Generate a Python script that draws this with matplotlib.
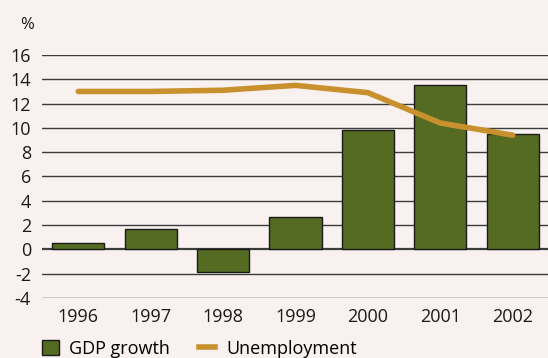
import matplotlib
matplotlib.use("Agg")
import matplotlib.pyplot as plt
import matplotlib.patches as mpatches
from matplotlib.lines import Line2D
import numpy as np

# Data
years = ["1996", "1997", "1998", "1999", "2000", "2001", "2002"]
gdp_growth = [0.5, 1.7, -1.9, 2.7, 9.8, 13.5, 9.5]
unemployment = [13.0, 13.0, 13.1, 13.5, 12.9, 10.4, 9.4]
y_ticks = [-4, -2, 0, 2, 4, 6, 8, 10, 12, 14, 16]

BG = "#F8F1EF"
BAR = "#556B22"
LINE = "#C8912E"
GRID = "#3C3C3C"

plt.rcParams["font.family"] = ["Open Sans", "DejaVu Sans"]

fig = plt.figure(figsize=(5.48, 3.58), dpi=100)
fig.patch.set_facecolor(BG)
ax = fig.add_axes([42 / 548, 1 - 298 / 358, 507 / 548, (298 - 55) / 358])
ax.set_facecolor(BG)

x = np.arange(len(years))
for y in y_ticks:
    ax.axhline(y, color=GRID, linewidth=1.6 if y == 0 else 1.0, zorder=1)

ax.bar(x, gdp_growth, width=0.72, color=BAR, edgecolor="#1A1A1A",
       linewidth=1.0, zorder=2)
ax.plot(x, unemployment, color=LINE, linewidth=4, solid_capstyle="round",
        zorder=3)

ax.set_xlim(-0.5, 6.5)
ax.set_ylim(-4, 16)
ax.set_yticks(y_ticks)
ax.set_yticklabels([str(v) for v in y_ticks], fontsize=13)
ax.set_xticks(x)
ax.set_xticklabels(years, fontsize=13)
ax.tick_params(length=0, colors="#1A1A1A")
ax.tick_params(axis="x", pad=7)
ax.tick_params(axis="y", pad=8)
for spine in ax.spines.values():
    spine.set_visible(False)

fig.text(27 / 548, 1 - 25 / 358, "%", fontsize=12, ha="center", va="center",
         color="#1A1A1A")

handles = [
    mpatches.Patch(facecolor=BAR, edgecolor="#1A1A1A", linewidth=1.0,
                   label="GDP growth"),
    Line2D([0], [0], color=LINE, linewidth=4, label="Unemployment"),
]
fig.legend(handles=handles, loc="lower left", bbox_to_anchor=(26 / 548, -0.045),
           ncol=2, frameon=False, fontsize=13, handlelength=0.9,
           handleheight=0.9, columnspacing=1.6, handletextpad=0.6)

fig.savefig("out.png", dpi=100, facecolor=fig.get_facecolor())
